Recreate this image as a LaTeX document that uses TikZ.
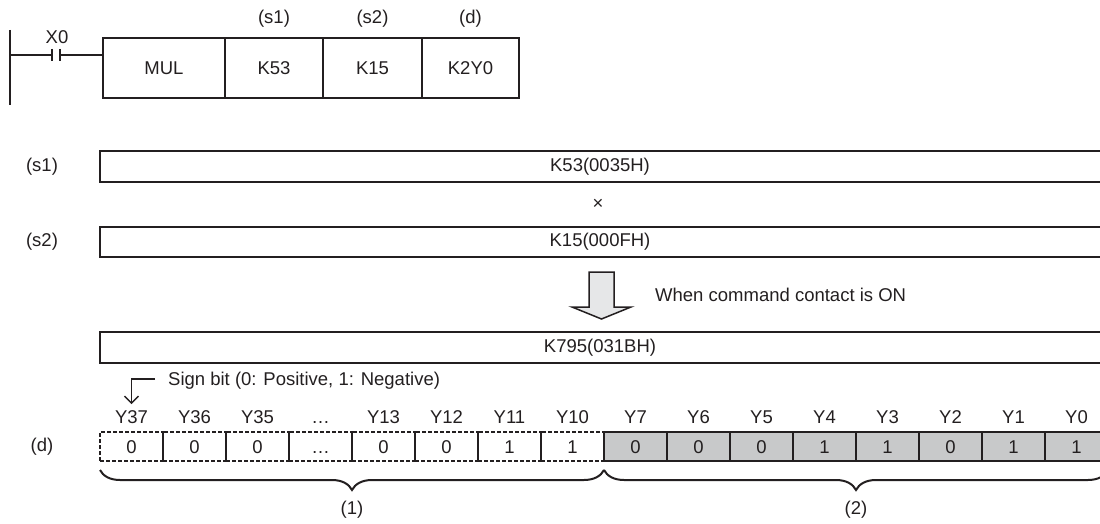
\documentclass[tikz,border=0pt]{standalone}
\usepackage{fontspec}
\setmainfont{Liberation Sans}
\usepackage{xcolor}
\usepackage{tikz}
\usetikzlibrary{arrows.meta, positioning, calc, decorations.pathreplacing}
\definecolor{mlink}{HTML}{231F20}
\definecolor{mlgray}{HTML}{C8C9CA}
\definecolor{mllight}{HTML}{E6E7E8}

\begin{document}
\begin{tikzpicture}[
    x=1pt, y=-1pt,
    font=\fontsize{18.5}{22}\selectfont,
    every node/.style={text=mlink},
    wire/.style={draw=mlink, line width=2pt},
    cell/.style={draw=mlink, line width=2pt, minimum height=60pt, inner sep=0pt, outer sep=0pt},
    opnd/.style={inner sep=0pt},
    ylab/.style={inner sep=0pt, text height=13.3pt, text depth=0pt},
    bar/.style={draw=mlink, line width=2pt},
    hibit/.style={draw=mlink, line width=1.5pt, dash pattern=on 4pt off 2pt, minimum width=63pt,
      minimum height=29pt, inner sep=0pt, outer sep=0pt, text height=13.3pt, text depth=0pt},
    lobit/.style={draw=mlink, line width=1.5pt, fill=mlgray, minimum width=63pt,
      minimum height=29pt, inner sep=0pt, outer sep=0pt, text height=13.3pt, text depth=0pt},
    bigarr/.style={draw=mlink, line width=1.5pt, fill=mllight, line join=miter},
    sgn/.style={-{Straight Barb[length=7pt, width=14pt]}, line width=1.5pt, draw=mlink},
    brc/.style={decorate, decoration={brace, amplitude=20pt}, line width=2pt, draw=mlink}
  ]
    \useasboundingbox (0,0) rectangle (1100,524);
    \clip (0,0) rectangle (1100,524);

    % ladder rung
    \coordinate (railtop) at (10,30);
    \coordinate (railbot) at (10,105);
    \coordinate (rung) at (10,55);
    \coordinate (pl) at (52,55);
    \coordinate (pr) at (60,55);
    \node[cell, minimum width=122pt] (mul) at (164,68) {MUL};
    \node[cell, minimum width=98pt, right=0pt of mul] (k53) {K53};
    \node[cell, minimum width=99pt, right=0pt of k53] (k15) {K15};
    \node[cell, minimum width=97pt, right=0pt of k15] (k2y0) {K2Y0};
    \node[opnd, above=10pt of k53] (s1top) {(s1)};
    \node[opnd, above=10pt of k15] (s2top) {(s2)};
    \node[opnd, above=10pt of k2y0] (dtop) {(d)};
    \node[opnd] (x0) at (57,37) {X0};
    \draw[wire] (railtop) -- (railbot);
    \draw[wire] (rung) -- (pl);
    \draw[wire] ([yshift=6pt]pl) -- ([yshift=-6pt]pl);
    \draw[wire] ([yshift=6pt]pr) -- ([yshift=-6pt]pr);
    \draw[wire] (pr) -- (pr -| mul.west);

    % operands
    \draw[bar] (100,151) rectangle (1120,182);
    \node (s1val) at (600,166.5) {K53(0035H)};
    \node (s1tag) at (42,166.5) {(s1)};
    \node (times) at (598,204) {×};
    \draw[bar] (100,227) rectangle (1120,257);
    \node (s2val) at (600,242) {K15(000FH)};
    \node (s2tag) at (42,242) {(s2)};

    \draw[bigarr] (589,272) -- (614,272) -- (614,307) -- (631,307) -- (601.5,319)
      -- (572,307) -- (589,307) -- cycle;
    \node[opnd, anchor=west] (cond) at (655,295) {When command contact is ON};

    % result
    \draw[bar] (100,332) rectangle (1120,363);
    \node (dval) at (600,347.5) {K795(031BH)};
    \node[opnd, anchor=west] (signtxt) at (168,381) {Sign bit (0: Positive, 1: Negative)};

    \foreach \yname/\bit [count=\i] in {Y37/0, Y36/0, Y35/0, …/…, Y13/0, Y12/0, Y11/1, Y10/1} {
      \node[hibit] (hi\i) at (100+63*\i-31.5, 446.5) {\bit};
      \node[ylab] (yh\i) at (100+63*\i-31.5, 417) {\yname};
    }
    \foreach \yname/\bit [count=\i] in {Y7/0, Y6/0, Y5/0, Y4/1, Y3/1, Y2/0, Y1/1, Y0/1} {
      \node[lobit] (lo\i) at (604+63*\i-31.5, 446.5) {\bit};
      \node[ylab] (yl\i) at (604+63*\i-31.5, 417) {\yname};
    }
    \draw[draw=mlink, line width=2.5pt] (lo1.north west) rectangle (lo8.south east);
    \node (dtag) at (42,447) {(d)};

    \coordinate (signfrom) at (155,379);
    \draw[sgn] (signfrom) -| ([yshift=6pt]yh1.north);

    \draw[brc] ([yshift=-9pt]hi8.south east) -- ([yshift=-9pt]hi1.south west);
    \draw[brc] ([yshift=-9pt]lo8.south east) -- ([yshift=-9pt]lo1.south west);
    \node (grp1) at (352,510) {(1)};
    \node (grp2) at (856,510) {(2)};
  \end{tikzpicture}
\end{document}
